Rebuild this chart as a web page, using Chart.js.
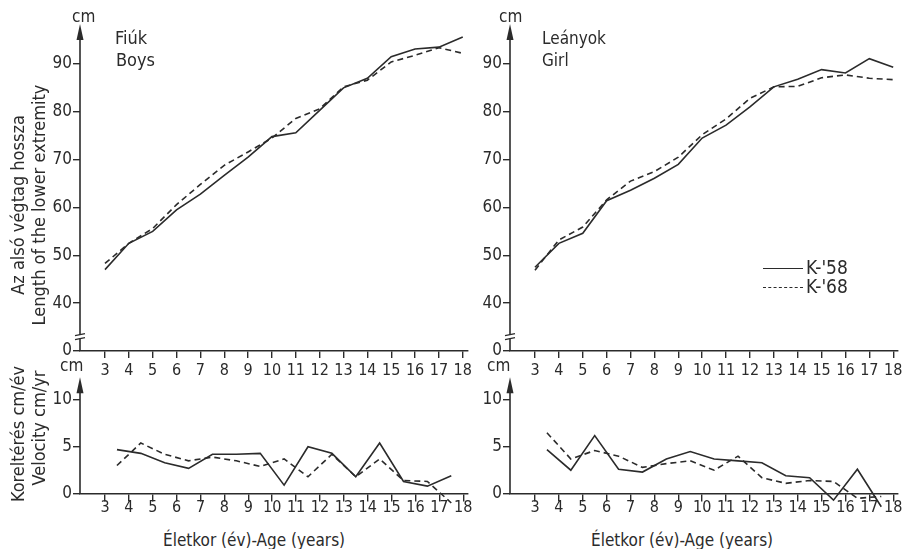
<!DOCTYPE html>
<html>
<head>
<meta charset="utf-8">
<script src="https://cdn.jsdelivr.net/npm/chart.js@4.4.0/dist/chart.umd.min.js"></script>
<style>
  body { margin: 0; background: #fff; }
  #wrap { position: relative; width: 910px; height: 549px; overflow: hidden; background: #fff;
          font-family: "DejaVu Sans Condensed", "Liberation Sans Narrow", "DejaVu Sans", sans-serif; color: #2b2b2b; }
  canvas { position: absolute; }
  .t { position: absolute; font-size: 17px; line-height: 20px; white-space: nowrap; }
  .rot { position: absolute; font-size: 18px; line-height: 20px; white-space: nowrap;
         transform: translate(-50%, -50%) rotate(-90deg); }
  .leg { position: absolute; width: 40px; height: 0; border-top: 1.6px solid #2b2b2b; }
</style>
</head>
<body>
<div id="wrap">
  <canvas id="c1" style="left:0;top:0"></canvas>
  <canvas id="c2" style="left:430px;top:0"></canvas>
  <canvas id="c3" style="left:0;top:370px"></canvas>
  <canvas id="c4" style="left:430px;top:370px"></canvas>

  <div class="t" style="left:72px;top:6px">cm</div>
  <div class="t" style="left:499px;top:6px">cm</div>
  <div class="t" style="left:60px;top:355px">cm</div>
  <div class="t" style="left:487px;top:355px">cm</div>

  <div class="t" style="left:115px;top:28px;font-size:18px">Fiúk</div>
  <div class="t" style="left:116px;top:50px;font-size:18px">Boys</div>
  <div class="t" style="left:542px;top:28px">Leányok</div>
  <div class="t" style="left:542px;top:50px">Girl</div>

  <div class="rot" style="left:18px;top:205px">Az alsó végtag hossza</div>
  <div class="rot" style="left:39px;top:205px">Length of the lower extremity</div>
  <div class="rot" style="left:18px;top:434px">Koreltérés cm/év</div>
  <div class="rot" style="left:39px;top:428px">Velocity cm/yr</div>

  <div class="t" style="left:163px;top:530px">Életkor (év)-Age (years)</div>
  <div class="t" style="left:591px;top:530px">Életkor (év)-Age (years)</div>

  <div class="leg" style="left:763px;top:268px"></div>
  <div class="t" style="left:806px;top:257px;font-size:19px">K-'58</div>
  <div class="leg" style="left:763px;top:287px;border-top-style:dashed"></div>
  <div class="t" style="left:806px;top:276px;font-size:19px">K-'68</div>
</div>
<script>
// kor (év) - hossz
const ages = [3, 4, 5, 6, 7, 8, 9, 10, 11, 12, 13, 14, 15, 16, 17, 18];
const boys58 = [47, 52.5, 55, 59.5, 62.8, 66.7, 70.5, 74.8, 75.6, 80.3, 85, 87, 91.5, 93.1, 93.5, 95.6];
const boys68 = [48.3, 52.5, 55.6, 60.6, 64.8, 68.8, 71.6, 74.5, 78.6, 80.6, 85.2, 86.6, 90.4, 91.8, 93.4, 92.2];
const girls58 = [47.5, 52.5, 54.6, 61.4, 63.6, 66.1, 69, 74.5, 77.2, 81, 85.2, 86.8, 88.8, 88.1, 91.1, 89.3];
const girls68 = [46.9, 53.2, 55.9, 61.6, 65.5, 67.5, 70.5, 75.2, 78.5, 82.8, 85.2, 85.3, 87.1, 87.7, 87, 86.7];

// növekedési sebesség (félévekre)
const velAges = [3.5, 4.5, 5.5, 6.5, 7.5, 8.5, 9.5, 10.5, 11.5, 12.5, 13.5, 14.5, 15.5, 16.5, 17.5];
const boysVel58 = [4.7, 4.3, 3.3, 2.7, 4.2, 4.2, 4.3, 0.9, 5.0, 4.3, 1.8, 5.4, 1.3, 0.8, 1.9];
const boysVel68 = [3.0, 5.4, 4.2, 3.5, 3.9, 3.5, 2.9, 3.7, 1.8, 4.2, 1.8, 3.7, 1.4, 1.3, -1.0];
const girlsVel58 = [4.7, 2.5, 6.2, 2.6, 2.3, 3.7, 4.5, 3.7, 3.5, 3.3, 1.9, 1.7, -0.7, 2.6, -1.4];
const girlsVel68 = [6.5, 3.7, 4.6, 4.0, 2.8, 3.2, 3.5, 2.5, 4.0, 1.7, 1.1, 1.4, 1.3, -0.5, -0.3];

const lengthTicks = [30, 40, 50, 60, 70, 80, 90];   // 30 = "0" a megszakított tengelyen
const velTicks = [0, 5, 10];

const ink = '#2b2b2b';
const fontFam = '"DejaVu Sans Condensed", "Liberation Sans Narrow", "DejaVu Sans", sans-serif';
Chart.defaults.font.family = fontFam;
Chart.defaults.color = ink;
Chart.defaults.animation = false;

function pts(xs, ys) {
    return xs.map((x, i) => ({ x: x, y: ys[i] }));
}

// tengely nyíl + megszakítás jel
const axisExtras = {
    id: 'axisExtras',
    afterDraw(chart, args, opts) {
        const c = chart.ctx;
        const y = chart.scales.y;
        const x0 = chart.chartArea.left;
        const base = y.getPixelForValue(opts.base);
        const top = chart.chartArea.top;
        c.save();
        c.strokeStyle = ink;
        c.fillStyle = ink;
        c.lineWidth = 1.6;
        c.beginPath();
        c.moveTo(x0, base);
        c.lineTo(x0, top + 4);
        c.stroke();
        c.beginPath();
        c.moveTo(x0, top - 4);
        c.lineTo(x0 - 3.5, top + 12);
        c.lineTo(x0 + 3.5, top + 12);
        c.closePath();
        c.fill();
        if (opts.breakAt != null) {
            const b = y.getPixelForValue(opts.breakAt);
            c.fillStyle = '#fff';
            c.fillRect(x0 - 3, b - 2, 6, 4);
            c.lineWidth = 1.3;
            c.beginPath();
            c.moveTo(x0 - 5, b - 1); c.lineTo(x0 + 5, b - 3);
            c.moveTo(x0 - 5, b + 3); c.lineTo(x0 + 5, b + 1);
            c.stroke();
        }
        c.restore();
    }
};

function makeChart(id, w, h, pad, s58, s68, xs, yOpts, extras) {
    const cv = document.getElementById(id);
    cv.width = w; cv.height = h;
    cv.style.width = w + 'px'; cv.style.height = h + 'px';
    return new Chart(cv, {
        type: 'line',
        data: {
            datasets: [
                { label: "K-'58", data: pts(xs, s58), borderColor: ink, borderWidth: 1.6, pointRadius: 0, tension: 0 },
                { label: "K-'68", data: pts(xs, s68), borderColor: ink, borderWidth: 1.6, borderDash: [6, 4], pointRadius: 0, tension: 0 }
            ]
        },
        options: {
            responsive: false,
            layout: { padding: pad },
            plugins: { legend: { display: false }, tooltip: { enabled: false }, axisExtras: extras },
            scales: {
                x: Object.assign({
                    type: 'linear', min: 1.953, max: 18.2,
                    afterBuildTicks: s => { s.ticks = ages.map(v => ({ value: v })); },
                    grid: { drawOnChartArea: false, tickLength: 7, color: ink, lineWidth: 1.4 },
                    border: { color: ink, width: 1.6 },
                    ticks: { font: { size: 16 }, padding: yOpts.xPad, maxRotation: 0, autoSkip: false, color: ink }
                }, yOpts.x),
                y: {
                    type: 'linear', min: yOpts.min, max: yOpts.max,
                    afterBuildTicks: s => { s.ticks = yOpts.ticks.map(v => ({ value: v })); },
                    afterFit: s => { s.width = 80; },
                    grid: { drawOnChartArea: false, tickLength: 7, color: ink, lineWidth: 1.4 },
                    border: { display: false },
                    ticks: {
                        font: { size: 17 }, padding: 1, color: ink,
                        callback: v => (v === 30 && yOpts.broken) ? '0' : String(v)
                    }
                }
            }
        },
        plugins: [axisExtras]
    });
}

const topY = { min: 30, max: 97.5, ticks: lengthTicks, broken: true, xPad: 3,
               x: { afterFit: s => { s.height = 25; } } };
const botY = { min: -1.62, max: 12, ticks: velTicks, broken: false, xPad: -2,
               x: { position: { y: 0 } } };

makeChart('c1', 475, 376, { top: 28, right: 7, left: 0, bottom: 0 }, boys58, boys68, ages, topY, { base: 30, breakAt: 33 });
makeChart('c2', 478, 376, { top: 28, right: 10, left: 0, bottom: 0 }, girls58, girls68, ages, topY, { base: 30, breakAt: 33 });
makeChart('c3', 475, 150, { top: 10, right: 7, left: 0, bottom: 5 }, boysVel58, boysVel68, velAges, botY, { base: 0 });
makeChart('c4', 478, 150, { top: 10, right: 10, left: 0, bottom: 5 }, girlsVel58, girlsVel68, velAges, botY, { base: 0 });
</script>
</body>
</html>
